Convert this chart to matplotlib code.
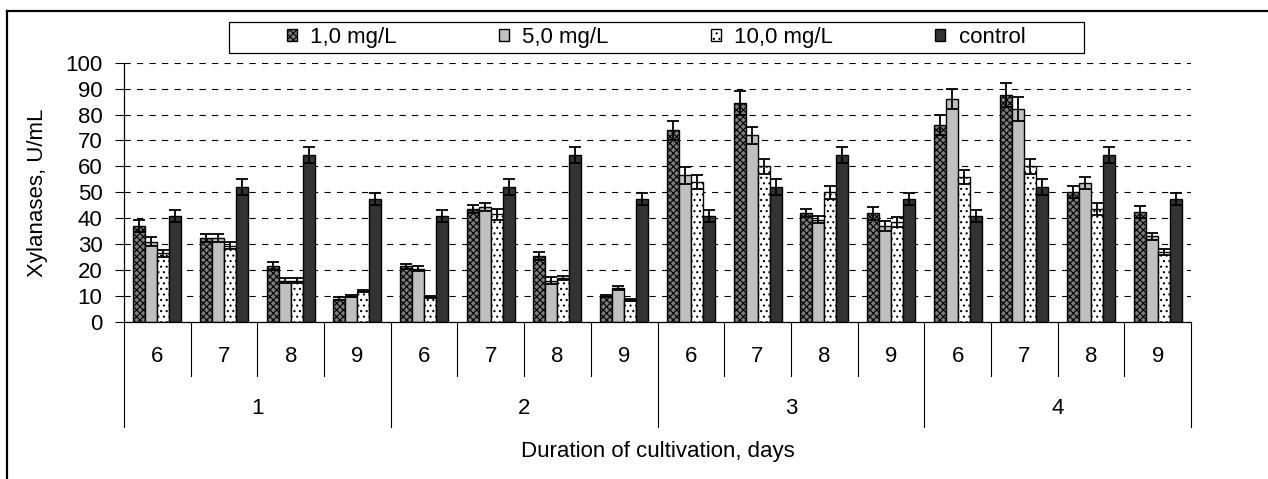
#!/usr/bin/env python3
"""
Xylanase activity by concentration, cultivation duration and series.
Grouped bar chart with a two-level category axis (series / day).
"""

import matplotlib
matplotlib.use('Agg')
import matplotlib.pyplot as plt
import matplotlib.transforms as mtransforms
from matplotlib.lines import Line2D
from matplotlib.patches import Rectangle

# --- data -------------------------------------------------------------
series_labels = ['1', '2', '3', '4']
day_labels = ['6', '7', '8', '9']
legend_labels = ['1,0 mg/L', '5,0 mg/L', '10,0 mg/L', 'control']

# values for the 16 (series, day) groups, in order 1-6, 1-7, ... 4-9
conc_1 = [37, 32.5, 21.5, 9, 21.5, 43.5, 25.5, 10,
          74, 84.5, 42, 42, 76, 87.5, 50, 42.5]
conc_5 = [31, 32.5, 16, 10, 20.5, 44.5, 16, 13,
          56.5, 72, 39.5, 37, 86, 82, 53.5, 33]
conc_10 = [26.5, 29.5, 16, 12, 9.5, 41.5, 17, 8.5,
           54, 60, 50, 38.5, 56, 60, 43.5, 27]
control = [41, 52, 64.5, 47.5, 41, 52, 64.5, 47.5,
           41, 52, 64.5, 47.5, 41, 52, 64.5, 47.5]

err_1 = [2.4, 1.5, 1.5, 0.5, 1, 1.5, 1.5, 0.5,
         3.7, 4.6, 1.6, 2.5, 3.9, 4.5, 2.3, 2.3]
err_5 = [1.6, 1.5, 0.8, 0.5, 1, 1.5, 1.3, 0.8,
         3.3, 3.3, 1.5, 2, 3.9, 4.6, 2.4, 1.5]
err_10 = [1.3, 1.3, 0.8, 0.4, 0.4, 2, 0.8, 0.4,
          2.8, 3, 2.5, 1.9, 2.8, 3, 2.2, 1.3]
err_control = [2.3, 3.1, 3, 2.2, 2.3, 3.1, 3, 2.2,
               2.3, 3.1, 3, 2.2, 2.3, 3.1, 3, 2.2]

W, H = 1268, 479
FS = 16


def fx(px):
    return px / W


def fy(py):
    return 1 - py / H


def main():
    plt.rcParams['font.family'] = ['Liberation Sans', 'DejaVu Sans']
    plt.rcParams['hatch.linewidth'] = 0.8
    plt.rcParams['lines.scale_dashes'] = False

    fig = plt.figure(figsize=(W / 100, H / 100), dpi=100)
    ax_left, ax_right, ax_top, ax_bot = 124, 1191, 62.7, 322
    ax = fig.add_axes([fx(ax_left), fy(ax_bot), fx(ax_right - ax_left),
                       (ax_bot - ax_top) / H])

    styles = [
        (conc_1, err_1, '#7c7c7c', 'xxxxx'),
        (conc_5, err_5, '#c0c0c0', None),
        (conc_10, err_10, 'white', '...'),
        (control, err_control, '#333333', None),
    ]

    n = len(conc_1)
    width = 0.18
    handles = []
    for k, (vals, errs, color, hatch) in enumerate(styles):
        xs = [i + 0.5 + (k - 1.5) * width for i in range(n)]
        bars = ax.bar(xs, vals, width=width, color=color, edgecolor='black',
                      linewidth=1.0, hatch=hatch, zorder=2)
        ax.errorbar(xs, vals, yerr=errs, fmt='none', ecolor='black',
                    elinewidth=1.3, capsize=4.5, capthick=1.3, zorder=3)
        handles.append(bars)

    ax.set_xlim(0, n)
    ax.set_ylim(0, 100)
    ax.set_yticks(range(0, 101, 10))
    ax.set_xticks([])
    ax.tick_params(axis='y', direction='out', length=6.5, width=0.8,
                   pad=9, labelsize=FS)
    ax.yaxis.grid(True, color='black', linewidth=0.8,
                  linestyle=(0, (4.5, 4.5)))
    ax.set_axisbelow(True)
    for side in ('top', 'right'):
        ax.spines[side].set_visible(False)
    for side in ('left', 'bottom'):
        ax.spines[side].set_linewidth(0.9)

    # two-level category axis below the plot
    trans = mtransforms.blended_transform_factory(ax.transData, ax.transAxes)
    hpx = ax_bot - ax_top

    def ya(py):
        return (ax_bot - py) / hpx

    for i in range(n + 1):
        outer = i % 4 == 0
        y_end = ya(427.3) if outer else ya(375.7)
        ax.add_line(Line2D([i, i], [0, y_end], transform=trans, color='black',
                           linewidth=0.8, clip_on=False))
    for i in range(n):
        ax.text(i + 0.5, ya(357), day_labels[i % 4], transform=trans,
                ha='center', va='center', fontsize=FS)
    for g, lab in enumerate(series_labels):
        ax.text(g * 4 + 2, ya(409), lab, transform=trans,
                ha='center', va='center', fontsize=FS)

    fig.text(fx((ax_left + ax_right) / 2), fy(451.7),
             'Duration of cultivation, days', ha='center', va='center',
             fontsize=FS)
    fig.text(fx(38), fy((ax_top + ax_bot) / 2), 'Xylanases, U/mL',
             rotation=90, ha='center', va='center', fontsize=FS)

    # legend box and entries
    lx0, lx1, ly0, ly1 = 229, 1084, 21.7, 53.3
    fig.patches.append(Rectangle((fx(lx0), fy(ly1)), fx(lx1 - lx0),
                                 (ly1 - ly0) / H, transform=fig.transFigure,
                                 fill=False, edgecolor='black', linewidth=0.9))
    fig.legend(handles, legend_labels, loc='center',
               bbox_to_anchor=(fx(656), fy((ly0 + ly1) / 2)), ncol=4,
               frameon=False, fontsize=FS, columnspacing=4.6,
               handlelength=0.45, handleheight=0.45, handletextpad=0.6,
               borderpad=0)

    # outer frame (only top and left edges are visible in the picture)
    fig.add_artist(Line2D([fx(7), 1], [fy(11), fy(11)],
                          transform=fig.transFigure, color='black',
                          linewidth=1.6))
    fig.add_artist(Line2D([fx(7), fx(7)], [0, fy(11)],
                          transform=fig.transFigure, color='black',
                          linewidth=1.6))

    fig.savefig('out.png', dpi=100)
    print("Saved: out.png")


if __name__ == "__main__":
    main()
